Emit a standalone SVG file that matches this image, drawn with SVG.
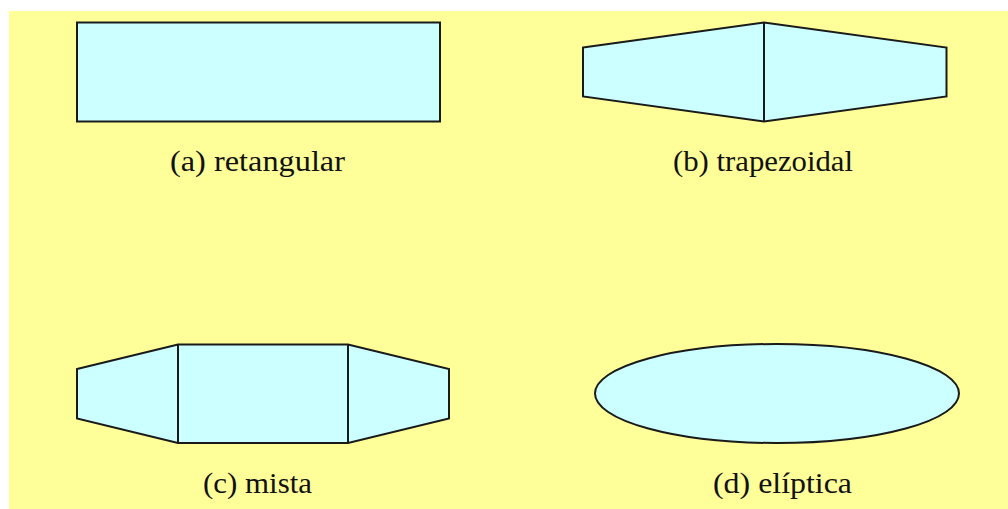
<svg xmlns="http://www.w3.org/2000/svg" width="1008" height="509" viewBox="0 0 1008 509">
<style>
.shape{fill:#CCFFFF;stroke:#1a1a1a;stroke-width:2;stroke-linejoin:miter}
.lbl{font-family:'Liberation Serif',Tinos,serif;font-size:30px;fill:#111}
</style>
<rect x="0" y="0" width="1008" height="509" fill="#FFFFFF"/>
<rect x="9" y="11" width="999" height="498" fill="#FFFF99"/>
<g id="a">
<rect class="shape" x="77" y="22.5" width="363" height="99"/>
<text class="lbl" x="170" y="171" textLength="175" lengthAdjust="spacingAndGlyphs">(a) retangular</text>
</g>
<g id="b">
<polygon class="shape" points="583,47.5 764,22.5 946.5,47.5 946.5,96.5 764,121.5 583,96.5"/>
<line class="shape" x1="764" y1="22.5" x2="764" y2="121.5"/>
<text class="lbl" x="673" y="171" textLength="180" lengthAdjust="spacingAndGlyphs">(b) trapezoidal</text>
</g>
<g id="c">
<polygon class="shape" points="77,369 178,344.5 348,344.5 449,369 449,418.5 348,443 178,443 77,418.5"/>
<line class="shape" x1="178" y1="344.5" x2="178" y2="443"/>
<line class="shape" x1="348" y1="344.5" x2="348" y2="443"/>
<text class="lbl" x="203" y="493" textLength="109" lengthAdjust="spacingAndGlyphs">(c) mista</text>
</g>
<g id="d">
<ellipse class="shape" cx="777" cy="393.5" rx="182" ry="49.5"/>
<text class="lbl" x="713" y="493" textLength="139" lengthAdjust="spacingAndGlyphs">(d) elíptica</text>
</g>
</svg>
